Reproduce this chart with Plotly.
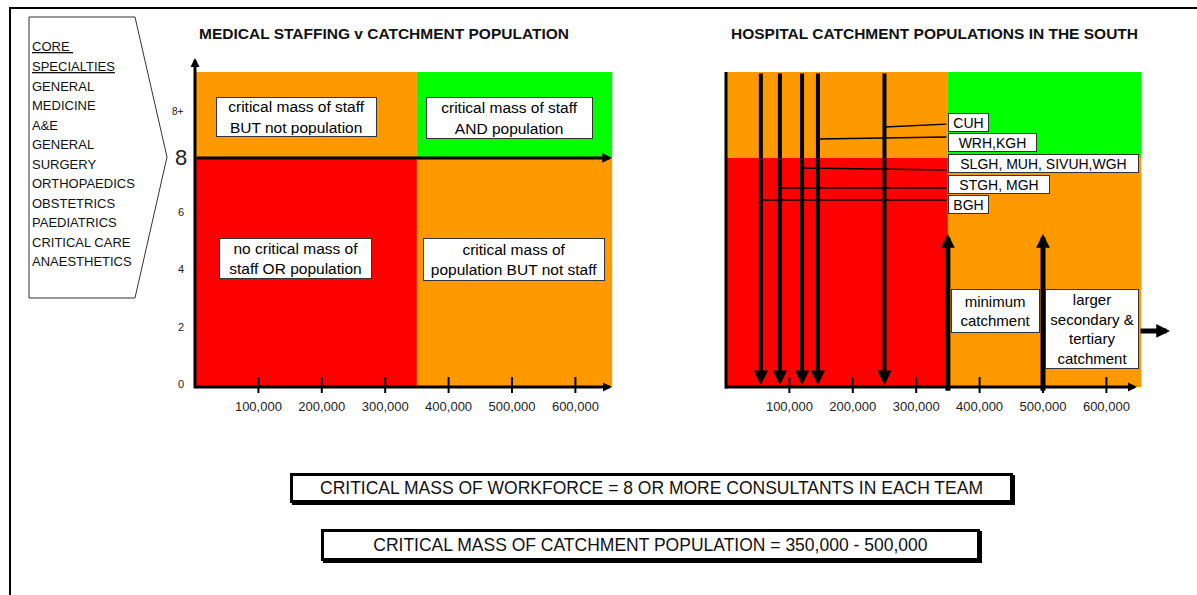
import plotly.graph_objects as go

# ---------------- data ----------------
population_ticks = [100000, 200000, 300000, 400000, 500000, 600000]
population_tick_labels = [f"{v:,}" for v in population_ticks]
staff_ticks = [0, 2, 4, 6, 8, 9.5]
staff_tick_labels = ["0", "2", "4", "6", "8", "8+"]
staff_threshold = 8
min_catchment = 350000
large_catchment = 500000
specialty_header = ["CORE&nbsp;", "SPECIALTIES"]
core_specialties = ["GENERAL", "MEDICINE", "A&E", "GENERAL", "SURGERY", "ORTHOPAEDICS",
                    "OBSTETRICS", "PAEDIATRICS", "CRITICAL CARE", "ANAESTHETICS"]
hospital_labels = ["CUH", "WRH,KGH", "SLGH, MUH, SIVUH,WGH", "STGH, MGH", "BGH"]
hospital_catchments = [250000, 145000, 120000, 85000, 55000]
quadrant_texts = ["critical mass of staff<br>BUT not population",
                  "critical mass of staff<br>AND population",
                  "no critical mass of<br>staff OR population",
                  "critical mass of<br>population BUT not staff"]
catchment_texts = ["minimum<br>catchment", "larger<br>secondary &<br>tertiary<br>catchment"]
titles = ["MEDICAL STAFFING v CATCHMENT POPULATION", "HOSPITAL CATCHMENT POPULATIONS IN THE SOUTH"]
summary_texts = ["CRITICAL MASS OF WORKFORCE = 8 OR MORE CONSULTANTS IN EACH TEAM",
                 "CRITICAL MASS OF CATCHMENT POPULATION = 350,000 - 500,000"]

RED, ORANGE, GREEN = "#FF0000", "#FF9900", "#00FF00"
FONT = "Liberation Sans, Arial, sans-serif"

# ---------------- layout helpers ----------------
W, H = 1197, 595
def PX(p): return p / W
def PY(p): return 1 - p / H

KX = 63.4 / 100000   # px per person
KY = 28.64           # px per staff unit
Y0 = 387             # pixel row of y=0
XL0, XR0 = 195, 726  # pixel col of x=0 for both panels
YR = [-0.35, 11.55]
XLR = [-8000, 665000]
XRR = [-8000, 712000]
TOP = 11
EDGE_L, EDGE_R = 658000, 655000

def YD(p): return (Y0 - p) / KY
def XDR(p): return (p - XR0) / KX
def XDL(p): return (p - XL0) / KX

fig = go.Figure()
for xa, ya in [("x", "y"), ("x2", "y2")]:
    fig.add_trace(go.Scatter(x=[None], y=[None], xaxis=xa, yaxis=ya, showlegend=False, hoverinfo="skip"))

shapes, anns = [], []

def zone_color(low_x, low_y):
    big_pop = low_x >= min_catchment
    big_staff = low_y >= staff_threshold
    if big_pop and big_staff:
        return GREEN
    if big_pop or big_staff:
        return ORANGE
    return RED

for xr, yr, edge in [("x", "y", EDGE_L), ("x2", "y2", EDGE_R)]:
    for (xa, xb) in [(0, min_catchment), (min_catchment, edge)]:
        for (ya, yb) in [(0, staff_threshold), (staff_threshold, TOP)]:
            shapes.append(dict(type="rect", xref=xr, yref=yr, x0=xa, x1=xb, y0=ya, y1=yb,
                               fillcolor=zone_color(xa, ya), line=dict(width=0), layer="below"))
    for t in population_ticks:
        shapes.append(dict(type="line", xref=xr, yref=yr, x0=t, x1=t, y0=-0.21, y1=0.35,
                           line=dict(color="black", width=2)))

# right panel y axis line
shapes.append(dict(type="line", xref="x2", yref="y2", x0=0, x1=0, y0=-0.05, y1=TOP,
                   line=dict(color="black", width=3)))

# frame
shapes.append(dict(type="line", xref="paper", yref="paper", x0=PX(10), x1=PX(10), y0=PY(600), y1=PY(8),
                   line=dict(color="black", width=2)))
shapes.append(dict(type="line", xref="paper", yref="paper", x0=PX(9), x1=PX(1200), y0=PY(8), y1=PY(8),
                   line=dict(color="black", width=2)))

# legend pentagon
pts = [(29, 17), (135, 17), (167, 157), (135, 298), (29, 298)]
path = "M " + " L ".join(f"{PX(a):.5f},{PY(b):.5f}" for a, b in pts) + " Z"
shapes.append(dict(type="path", xref="paper", yref="paper", path=path,
                   line=dict(color="#333", width=1), fillcolor="white"))

# bottom box shadows
for (x0, y0, x1, y1) in [(290, 473, 1013, 503), (321, 529, 980, 561)]:
    shapes.append(dict(type="rect", xref="paper", yref="paper", x0=PX(x0 + 2), x1=PX(x1 + 2),
                       y0=PY(y1 + 2), y1=PY(y0 + 2), fillcolor="black", line=dict(width=0)))

# titles
for t, cx in zip(titles, [384, 934]):
    anns.append(dict(xref="paper", yref="paper", x=PX(cx), y=PY(33), text=f"<b>{t}</b>", showarrow=False,
                     font=dict(family=FONT, size=15.5, color="#111"), xanchor="center", yanchor="middle"))

# legend text
lines = [f"<u>{h}</u>" for h in specialty_header] + core_specialties
for i, s in enumerate(lines):
    anns.append(dict(xref="paper", yref="paper", x=PX(30), y=PY(47 + i * 19.5), text=s, showarrow=False,
                     font=dict(family=FONT, size=13, color="#111"), xanchor="left", yanchor="middle"))

# y tick labels (left panel)
for v, s in zip(staff_ticks, staff_tick_labels):
    big = (s == "8")
    anns.append(dict(xref="paper", yref="y", x=PX(189 if big else 186), y=v, text=s, showarrow=False,
                     font=dict(family=FONT, size=22 if big else (10 if s == "8+" else 11), color="#222"),
                     xanchor="right", yanchor="middle", yshift=0 if big else 3))

# quadrant labels (left panel)
quad_boxes = [(216, 97, 377, 137), (426, 97, 593, 139), (219, 238, 372, 279), (423, 238, 605, 281)]
for t, (a, b, c, d) in zip(quadrant_texts, quad_boxes):
    anns.append(dict(xref="x", yref="y", x=XDL((a + c) / 2), y=YD((b + d) / 2), text=t, showarrow=False,
                     font=dict(family=FONT, size=15.5, color="black"), bgcolor="white",
                     bordercolor="#333", borderwidth=1, borderpad=1, width=c - a - 4, height=d - b - 4,
                     xanchor="center", yanchor="middle", align="center"))

def arrow(xr, yr, x0, y0, x1, y1, w, size, head=2):
    return dict(xref=xr, yref=yr, axref=xr, ayref=yr, x=x1, y=y1, ax=x0, ay=y0, text="",
                showarrow=True, arrowhead=head, arrowsize=size, arrowwidth=w, arrowcolor="black",
                standoff=0, startstandoff=0)

# left panel axes
anns.append(arrow("x", "y", 0, -0.1, 0, YD(58), 3, 0.6))
anns.append(arrow("x", "y", XDL(193), 0, XDL(612), 0, 3, 0.6))
anns.append(arrow("x", "y", 0, staff_threshold, XDL(612), staff_threshold, 3, 0.65))

# right panel axis
anns.append(arrow("x2", "y2", XDR(724), 0, XDR(1137), 0, 3, 0.6))

# hospital down arrows
for v in hospital_catchments:
    anns.append(arrow("x2", "y2", v, TOP, v, YD(385), 4, 0.72))

# callout lines and labels
box_y = [123, 142.5, 163.5, 185, 205]
line_start = [127, 139, 168, 188, 200]
line_end = [124, 137, 170, 188, 200]
box_w = [41, 89, 191, 102, 41]
for lab, v, by, ls, le, bw in zip(hospital_labels, hospital_catchments, box_y, line_start, line_end, box_w):
    anns.append(arrow("x2", "y2", min_catchment, YD(le), v, YD(ls), 1.3, 1, head=0))
for lab, v, by, ls, le, bw in zip(hospital_labels, hospital_catchments, box_y, line_start, line_end, box_w):
    anns.append(dict(xref="x2", yref="y2", x=min_catchment, y=YD(by), text=lab, showarrow=False,
                     font=dict(family=FONT, size=14, color="black"), bgcolor="white",
                     bordercolor="#333", borderwidth=1, borderpad=0, width=bw - 2, height=17,
                     xanchor="left", yanchor="middle", align="center"))

# catchment up arrows
for v in [min_catchment, large_catchment]:
    anns.append(arrow("x2", "y2", v, -0.18, v, YD(234), 5, 0.55))

# catchment boxes
cboxes = [(951, 289, 1040, 333), (1045, 289, 1139, 369)]
for t, (a, b, c, d) in zip(catchment_texts, cboxes):
    anns.append(dict(xref="x2", yref="y2", x=XDR((a + c) / 2), y=YD((b + d) / 2), text=t, showarrow=False,
                     font=dict(family=FONT, size=15, color="black"), bgcolor="white",
                     bordercolor="#333", borderwidth=1, borderpad=1, width=c - a - 4, height=d - b - 4,
                     xanchor="center", yanchor="middle", align="center"))

# right arrow
anns.append(arrow("x2", "y2", XDR(1139), YD(331), XDR(1170), YD(331), 5, 0.55))

# summary boxes
for t, (a, b, c, d) in zip(summary_texts, [(290, 473, 1013, 503), (321, 529, 980, 561)]):
    anns.append(dict(xref="paper", yref="paper", x=PX((a + c) / 2), y=PY((b + d) / 2), text=t,
                     showarrow=False, font=dict(family=FONT, size=17.5, color="#111"), bgcolor="white",
                     bordercolor="black", borderwidth=3, borderpad=1, width=c - a - 8, height=d - b - 8,
                     xanchor="center", yanchor="middle", align="center"))

axis_common = dict(showgrid=False, zeroline=False, showline=False, ticks="", fixedrange=True)
fig.update_layout(
    width=W, height=H, margin=dict(l=0, r=0, t=0, b=0),
    paper_bgcolor="white", plot_bgcolor="white", showlegend=False,
    xaxis=dict(domain=[PX(XL0 + XLR[0] * KX), PX(XL0 + XLR[1] * KX)], range=XLR, anchor="y",
               tickvals=population_ticks, ticktext=population_tick_labels,
               tickfont=dict(family=FONT, size=13, color="#222"), **axis_common),
    yaxis=dict(domain=[PY(Y0 - YR[0] * KY), PY(Y0 - YR[1] * KY)], range=YR, anchor="x",
               showticklabels=False, **axis_common),
    xaxis2=dict(domain=[PX(XR0 + XRR[0] * KX), PX(XR0 + XRR[1] * KX)], range=XRR, anchor="y2",
                tickvals=population_ticks, ticktext=population_tick_labels,
                tickfont=dict(family=FONT, size=13, color="#222"), **axis_common),
    yaxis2=dict(domain=[PY(Y0 - YR[0] * KY), PY(Y0 - YR[1] * KY)], range=YR, anchor="x2",
                showticklabels=False, **axis_common),
    shapes=shapes, annotations=anns,
)

fig.write_html("out.html", config={"displayModeBar": False},
               post_script="document.body.style.margin='0';document.body.style.overflow='hidden';")
